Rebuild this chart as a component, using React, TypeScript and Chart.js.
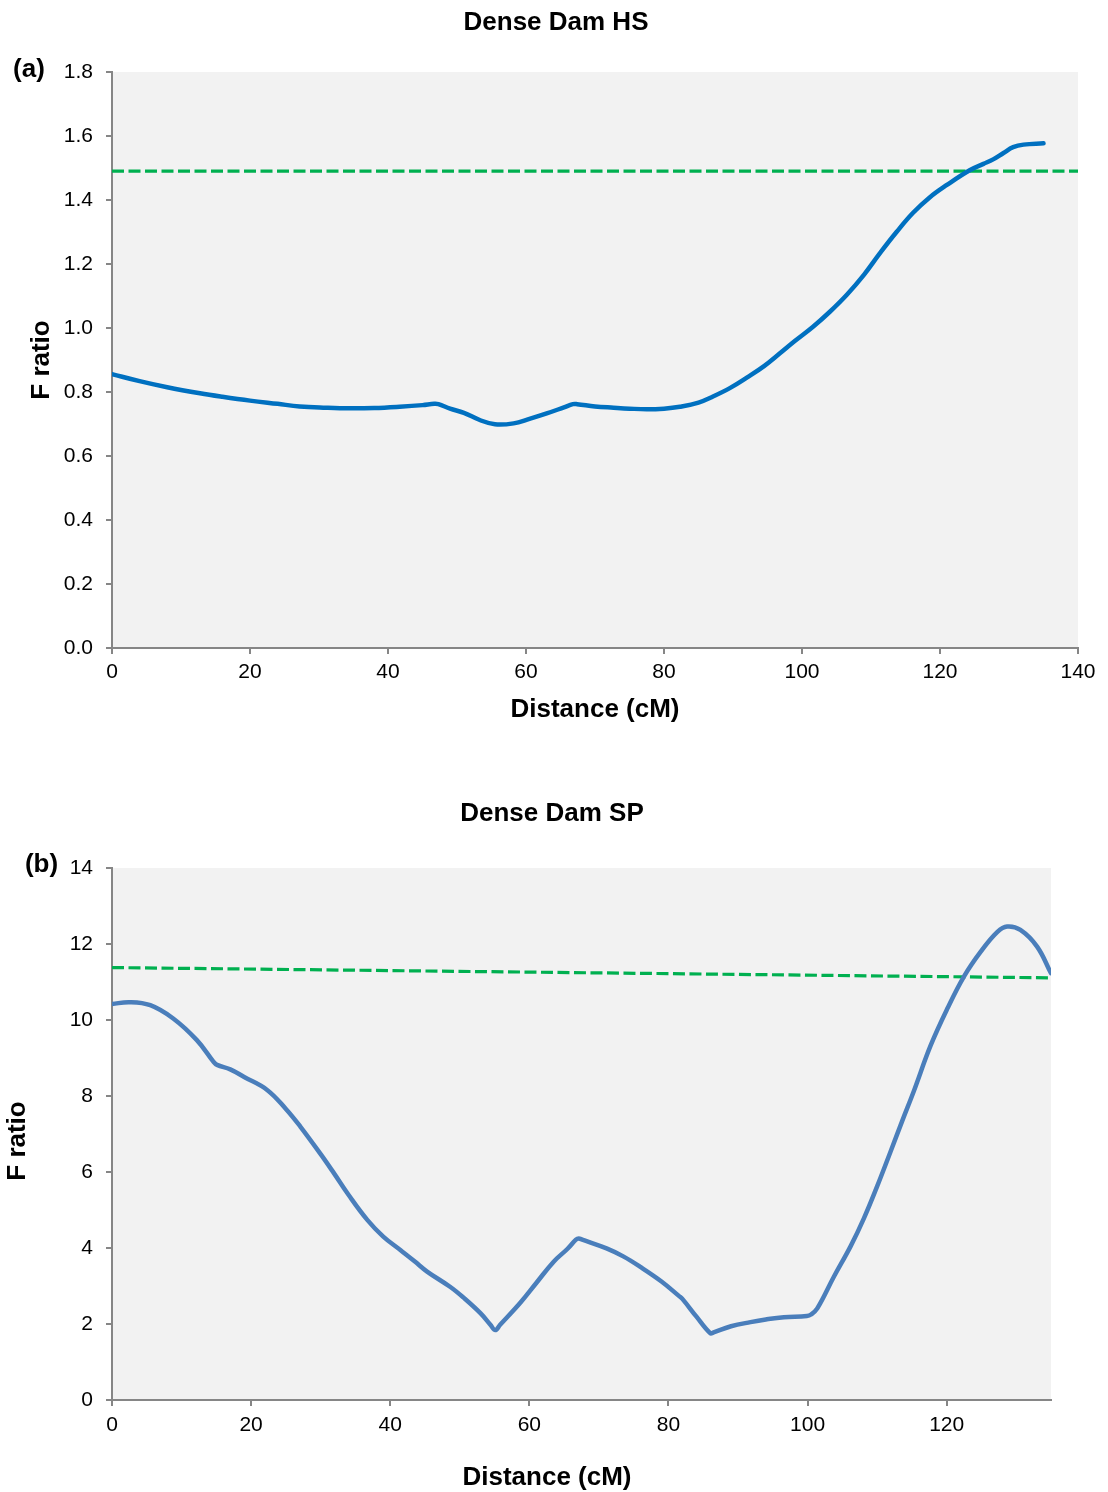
import React, { useEffect, useRef } from "react";
import { Chart, registerables } from "chart.js";

Chart.register(...registerables);

// ---------- Data: Dense Dam HS (panel a) ----------
const hsDistance = [
  0, 4, 8, 12.75, 16, 20, 24, 27.2, 31, 34.5, 38, 41.7, 45, 46.7, 47.3, 49, 51, 53.3, 55.5, 58.2,
  60.5, 63, 65.5, 66.8, 67.4, 70, 72.7, 75, 77.5, 80, 82.3, 85, 87.1, 89.6, 92, 94.5, 96.8, 99,
  101.6, 104, 106.5, 109, 111.3, 113.7, 116.1, 118.5, 121, 124.3, 126.3, 127.7, 129.2, 130.6,
  132.1, 135,
];
const hsFRatio = [
  0.856, 0.834, 0.815, 0.796, 0.785, 0.773, 0.763, 0.755, 0.751, 0.749, 0.75, 0.754, 0.759, 0.763,
  0.762, 0.748, 0.735, 0.7125, 0.699, 0.702, 0.716, 0.733, 0.752, 0.762, 0.762, 0.755, 0.751,
  0.748, 0.746, 0.748, 0.754, 0.767, 0.786, 0.813, 0.845, 0.881, 0.921, 0.96, 1.004, 1.05, 1.104,
  1.167, 1.234, 1.3, 1.36, 1.408, 1.447, 1.493, 1.513, 1.527, 1.547, 1.565, 1.573, 1.577,
];
const hsThresholdDistance = [0, 140];
const hsThreshold = [1.49, 1.49];
const hsXTicks = [0, 20, 40, 60, 80, 100, 120, 140];
const hsYTicks = [0, 0.2, 0.4, 0.6, 0.8, 1.0, 1.2, 1.4, 1.6, 1.8];

// ---------- Data: Dense Dam SP (panel b) ----------
const spDistance = [
  0, 2.5, 5.5, 8.8, 12.2, 14.6, 15.1, 17, 19, 22.3, 25, 27.1, 30, 31.9, 34, 36.7, 39, 41.5, 43.5,
  45.3, 48.6, 50.5, 53, 54.4, 55.1, 55.8, 58.7, 61, 63.5, 65.5, 66.7, 67.1, 67.6, 71.1, 73.5,
  75.9, 79, 81.5, 82, 84, 86, 86.5, 89, 91.8, 94, 96.6, 99.9, 100.5, 101.4, 103.8, 106.2, 108.1,
  110, 111.9, 113.6, 115.3, 117.7, 120.1, 122.5, 124.9, 127.3, 128.7, 130.6, 133, 135,
];
const spFRatio = [
  10.42, 10.47, 10.39, 10.04, 9.47, 8.9, 8.82, 8.7, 8.5, 8.16, 7.66, 7.19, 6.47, 5.97, 5.4, 4.74,
  4.3, 3.94, 3.65, 3.38, 2.98, 2.7, 2.28, 1.98, 1.84, 1.98, 2.56, 3.08, 3.64, 3.98, 4.22, 4.25,
  4.22, 3.99, 3.78, 3.51, 3.12, 2.74, 2.66, 2.2, 1.76, 1.78, 1.94, 2.05, 2.12, 2.18, 2.21, 2.25,
  2.41, 3.25, 4.05, 4.78, 5.62, 6.52, 7.34, 8.14, 9.33, 10.3, 11.15, 11.8, 12.32, 12.46, 12.37,
  11.93, 11.23,
];
const spThresholdDistance = [0, 135];
const spThreshold = [11.38, 11.11];
const spXTicks = [0, 20, 40, 60, 80, 100, 120];
const spYTicks = [0, 2, 4, 6, 8, 10, 12, 14];

const FONT = '"Liberation Sans", Arial, Helvetica, sans-serif';

type Label = { text: string; x: number; y: number; rotate?: boolean };

function makeChart(
  canvas: HTMLCanvasElement,
  cfg: {
    xs: number[];
    ys: number[];
    tx: number[];
    ty: number[];
    xMax: number;
    yMax: number;
    xTicks: number[];
    yTicks: number[];
    decimals: number;
    lineColor: string;
    padding: { left: number; top: number; right: number; bottom: number };
    xTickPad: number;
    labels: Label[];
  }
) {
  const bgPlugin = {
    id: "plotBg",
    beforeDraw(chart: any) {
      const { ctx, chartArea } = chart;
      ctx.save();
      ctx.fillStyle = "#F2F2F2";
      ctx.fillRect(chartArea.left, chartArea.top, chartArea.right - chartArea.left, chartArea.bottom - chartArea.top);
      ctx.restore();
    },
  };
  const textPlugin = {
    id: "texts",
    afterDraw(chart: any) {
      const ctx = chart.ctx;
      ctx.save();
      ctx.fillStyle = "#000";
      ctx.font = `bold 26px ${FONT}`;
      ctx.textAlign = "center";
      ctx.textBaseline = "middle";
      for (const l of cfg.labels) {
        if (l.rotate) {
          ctx.save();
          ctx.translate(l.x, l.y);
          ctx.rotate(-Math.PI / 2);
          ctx.fillText(l.text, 0, 0);
          ctx.restore();
        } else {
          ctx.fillText(l.text, l.x, l.y);
        }
      }
      ctx.restore();
    },
  };

  const axisColor = "#868686";
  return new Chart(canvas, {
    type: "line",
    data: {
      datasets: [
        {
          data: cfg.xs.map((x, i) => ({ x, y: cfg.ys[i] })),
          borderColor: cfg.lineColor,
          borderWidth: 4.5,
          pointRadius: 0,
          tension: 0.4,
          fill: false,
          borderCapStyle: "round",
          borderJoinStyle: "round",
        },
        {
          data: cfg.tx.map((x, i) => ({ x, y: cfg.ty[i] })),
          borderColor: "#00B050",
          borderWidth: 3.2,
          borderDash: [12, 4.5],
          pointRadius: 0,
          tension: 0,
          fill: false,
        },
      ],
    },
    options: {
      responsive: false,
      animation: false,
      events: [],
      layout: { padding: cfg.padding },
      plugins: { legend: { display: false }, tooltip: { enabled: false }, title: { display: false } },
      scales: {
        x: {
          type: "linear",
          min: 0,
          max: cfg.xMax,
          afterBuildTicks: (scale: any) => {
            scale.ticks = cfg.xTicks.map((v) => ({ value: v }));
          },
          afterFit: (scale: any) => {
            scale.height = 40;
          },
          ticks: { font: { family: FONT, size: 21 }, color: "#000", padding: cfg.xTickPad, maxRotation: 0 },
          grid: { drawOnChartArea: false, drawTicks: true, tickLength: 6, color: axisColor, lineWidth: 2 },
          border: { display: true, color: axisColor, width: 2 },
        },
        y: {
          type: "linear",
          min: 0,
          max: cfg.yMax,
          afterBuildTicks: (scale: any) => {
            scale.ticks = cfg.yTicks.map((v) => ({ value: v }));
          },
          afterFit: (scale: any) => {
            scale.width = 112 - cfg.padding.left;
          },
          ticks: {
            font: { family: FONT, size: 21 },
            color: "#000",
            padding: 13,
            callback: (v: any) => Number(v).toFixed(cfg.decimals),
          },
          grid: { drawOnChartArea: false, drawTicks: true, tickLength: 6, color: axisColor, lineWidth: 2 },
          border: { display: true, color: axisColor, width: 2 },
        },
      },
    } as any,
    plugins: [bgPlugin, textPlugin],
  });
}

export default function App() {
  const topRef = useRef<HTMLCanvasElement>(null);
  const botRef = useRef<HTMLCanvasElement>(null);

  useEffect(() => {
    const c1 = makeChart(topRef.current!, {
      xs: hsDistance,
      ys: hsFRatio,
      tx: hsThresholdDistance,
      ty: hsThreshold,
      xMax: 140,
      yMax: 1.8,
      xTicks: hsXTicks,
      yTicks: hsYTicks,
      decimals: 1,
      lineColor: "#0070C0",
      padding: { left: 0, top: 72, right: 30, bottom: 72 },
      xTickPad: 6,
      labels: [
        { text: "Dense Dam HS", x: 556, y: 23 },
        { text: "(a)", x: 29, y: 70 },
        { text: "F ratio", x: 42, y: 360, rotate: true },
        { text: "Distance (cM)", x: 595, y: 710 },
      ],
    });
    const c2 = makeChart(botRef.current!, {
      xs: spDistance,
      ys: spFRatio,
      tx: spThresholdDistance,
      ty: spThreshold,
      xMax: 135,
      yMax: 14,
      xTicks: spXTicks,
      yTicks: spYTicks,
      decimals: 0,
      lineColor: "#4A7EBB",
      padding: { left: 0, top: 108, right: 57, bottom: 52 },
      xTickPad: 7,
      labels: [
        { text: "Dense Dam SP", x: 552, y: 54 },
        { text: "(b)", x: 41.5, y: 105 },
        { text: "F ratio", x: 18, y: 381, rotate: true },
        { text: "Distance (cM)", x: 547, y: 718 },
      ],
    });
    return () => {
      c1.destroy();
      c2.destroy();
    };
  }, []);

  return (
    <div style={{ position: "absolute", left: 0, top: 0, width: 1108, height: 1492, background: "#fff" }}>
      <canvas
        ref={topRef}
        width={1108}
        height={760}
        style={{ position: "absolute", left: 0, top: 0, width: 1108, height: 760, display: "block" }}
      />
      <canvas
        ref={botRef}
        width={1108}
        height={732}
        style={{ position: "absolute", left: 0, top: 760, width: 1108, height: 732, display: "block" }}
      />
    </div>
  );
}
